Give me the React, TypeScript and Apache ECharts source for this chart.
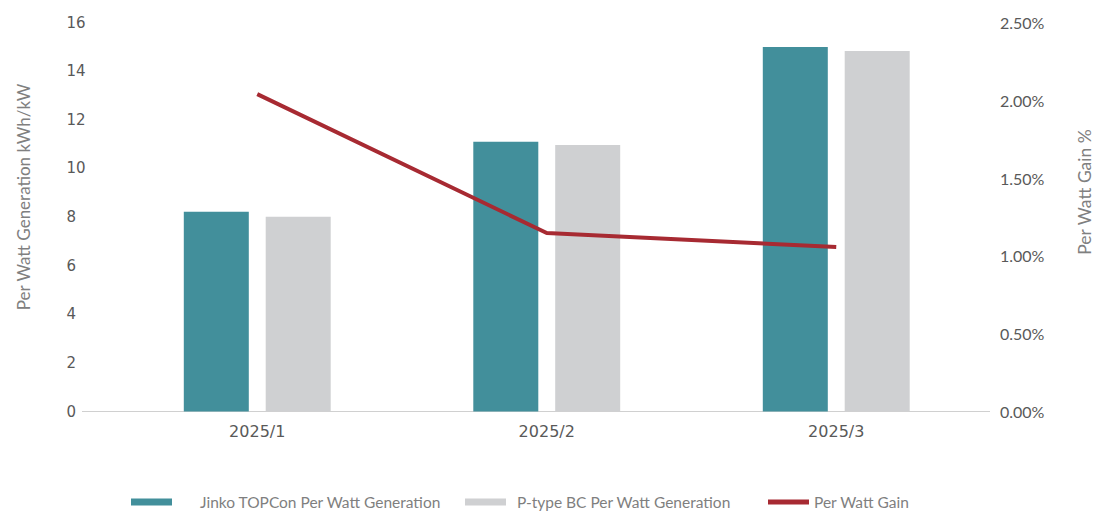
import React, { useEffect, useRef } from "react";
import * as echarts from "echarts";

const categories = ["2025/1", "2025/2", "2025/3"];
const jinkoValues = [8.22, 11.09, 14.99];
const bcValues = [8.01, 10.96, 14.83];
const gainValues = [0.0204, 0.01147, 0.01057];
const leftTicks = { min: 0, max: 16, interval: 2 };
const rightTicks = { min: 0, max: 0.025, interval: 0.005 };

const seriesNames = [
  "Jinko TOPCon Per Watt Generation",
  "P-type BC Per Watt Generation",
  "Per Watt Gain",
];
const seriesColors = ["#428f9b", "#cfd0d2", "#a72a32"];

export default function App() {
  const ref = useRef<HTMLDivElement>(null);
  useEffect(() => {
    if (!ref.current) return;
    const chart = echarts.init(ref.current, undefined, { renderer: "svg" });
    const legendFont = { color: "#7f7f7f", fontSize: 15.5, fontFamily: "Lato" };
    const mkLegend = (i: number, left: number, gap: number, h: number) => ({
      top: 494,
      left,
      padding: 0,
      itemWidth: 41,
      itemHeight: h,
      icon: "rect",
      textStyle: { ...legendFont, padding: [0, 0, 0, gap] },
      data: [{ name: seriesNames[i], icon: "rect", itemStyle: { color: seriesColors[i] } }],
    });
    chart.setOption({
      animation: false,
      backgroundColor: "#ffffff",
      grid: {
        left: 112.5,
        right: 113,
        top: 22.5,
        bottom: 99.5,
        containLabel: false,
        outerBoundsMode: "none",
      },
      legend: [mkLegend(0, 131, 23, 7), mkLegend(1, 465, 6, 7), mkLegend(2, 768, 0, 5)],
      graphic: [
        {
          type: "line",
          shape: { x1: 82, y1: 411.5, x2: 990, y2: 411.5 },
          style: { stroke: "#d0d0d0", lineWidth: 1 },
          z: 1,
        },
      ],
      xAxis: {
        type: "category",
        data: categories,
        axisLine: { show: false },
        axisTick: { show: false },
        axisLabel: { color: "#595959", fontSize: 16, fontFamily: "DejaVu Sans", margin: 12 },
      },
      yAxis: [
        {
          type: "value",
          ...leftTicks,
          name: "Per Watt Generation kWh/kW",
          nameLocation: "middle",
          nameRotate: 90,
          nameGap: 81,
          nameTextStyle: { color: "#808080", fontSize: 17, fontFamily: "Lato", padding: [0, 0, 0, 40] },
          splitLine: { show: false },
          axisLine: { show: false },
          axisTick: { show: false },
          axisLabel: { color: "#595959", fontSize: 15, fontFamily: "DejaVu Sans", align: "left", margin: 46 },
        },
        {
          type: "value",
          ...rightTicks,
          name: "Per Watt Gain %",
          nameLocation: "middle",
          nameRotate: 90,
          nameGap: 94,
          nameTextStyle: { color: "#808080", fontSize: 17.5, fontFamily: "Lato", padding: [0, 0, 0, 50] },
          splitLine: { show: false },
          axisLine: { show: false },
          axisTick: { show: false },
          axisLabel: {
            color: "#595959",
            fontSize: 16,
            fontFamily: "Lato",
            margin: 19,
            formatter: (v: number) => (v * 100).toFixed(2) + "%",
          },
        },
      ],
      series: [
        {
          name: seriesNames[0],
          type: "bar",
          data: jinkoValues,
          barWidth: 65,
          barGap: "26%",
          itemStyle: { color: seriesColors[0] },
        },
        {
          name: seriesNames[1],
          type: "bar",
          data: bcValues,
          barWidth: 65,
          itemStyle: { color: seriesColors[1] },
        },
        {
          name: seriesNames[2],
          type: "line",
          yAxisIndex: 1,
          data: gainValues,
          symbol: "none",
          lineStyle: { color: seriesColors[2], width: 4 },
          itemStyle: { color: seriesColors[2] },
          z: 5,
        },
      ],
    });
    return () => chart.dispose();
  }, []);
  return (
    <div
      ref={ref}
      style={{ position: "absolute", left: 0, top: 0, width: 1094, height: 511 }}
    />
  );
}
